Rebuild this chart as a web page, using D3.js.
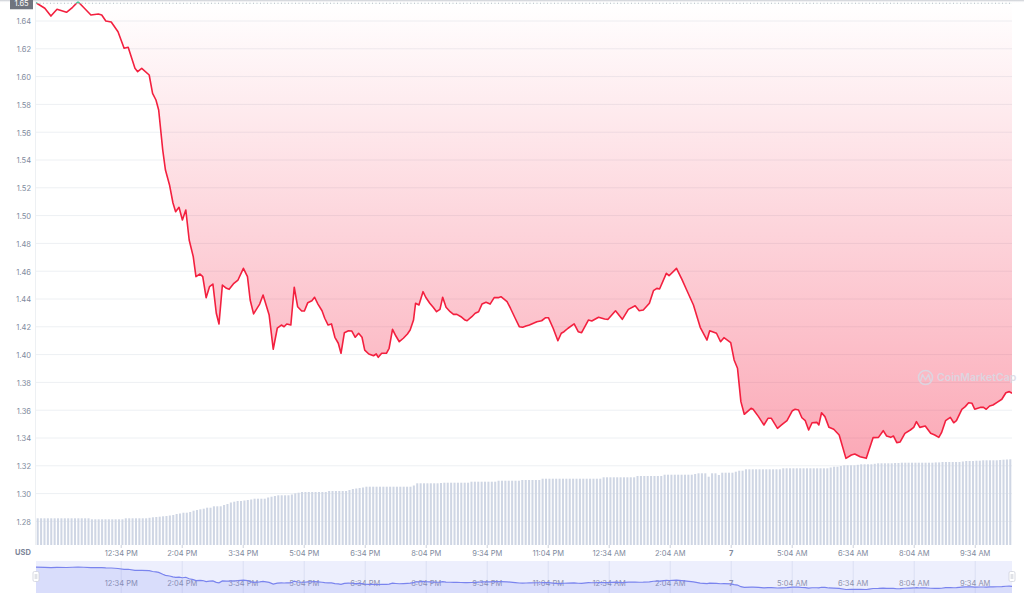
<!DOCTYPE html>
<html><head><meta charset="utf-8">
<script src="https://cdn.jsdelivr.net/npm/d3@7"></script>
<style>html,body{margin:0;padding:0;background:#fff;overflow:hidden}svg{display:block;font-family:Inter,"Noto Sans",sans-serif}</style>
</head><body><svg id="c" width="1024" height="603"></svg>
<script>
// minutes since 10:29 AM (day 6)
const priceMinutes = [0,13,22,31,45,54,62,70,81,92,97,103,111,121,130,136,146,150,156,167,172,177,181,187,191,197,202,206,211,216,221,226,232,236,242,246,251,256,261,266,270,275,281,285,292,298,306,312,316,321,330,335,344,350,356,362,366,370,376,381,386,392,396,401,407,411,416,422,426,431,436,441,446,450,455,461,466,471,476,481,485,491,498,502,505,510,517,521,526,531,536,542,548,552,557,560,565,571,575,581,586,591,596,600,605,611,616,621,627,633,636,643,648,653,658,664,670,676,682,686,695,700,707,713,718,723,728,739,746,752,756,763,770,775,779,785,794,800,805,815,820,830,839,844,855,865,874,884,890,896,905,911,916,920,930,934,945,953,960,970,980,990,994,1004,1010,1015,1025,1030,1035,1040,1045,1055,1058,1066,1074,1080,1085,1094,1100,1108,1116,1120,1125,1130,1135,1140,1145,1152,1155,1159,1164,1170,1177,1185,1195,1203,1208,1216,1225,1229,1235,1243,1250,1255,1261,1265,1270,1275,1282,1290,1295,1299,1304,1312,1320,1326,1332,1336,1342,1349,1354,1358,1366,1371,1376,1381,1385,1394,1398,1402,1407,1412,1418,1425,1431,1436,1440];
const prices = [1.6528,1.6488,1.6432,1.6481,1.6459,1.6495,1.6535,1.6495,1.6440,1.6447,1.6440,1.6396,1.6389,1.6319,1.6200,1.6207,1.6056,1.6032,1.6056,1.6008,1.5876,1.5828,1.5756,1.5468,1.5324,1.5217,1.5089,1.5024,1.5056,1.4965,1.5037,1.4821,1.4701,1.4557,1.4576,1.4557,1.4406,1.4485,1.4504,1.4294,1.4217,1.4497,1.4473,1.4466,1.4509,1.4533,1.4617,1.4557,1.4389,1.4289,1.4360,1.4425,1.4281,1.4035,1.4186,1.4209,1.4197,1.4217,1.4209,1.4481,1.4341,1.4310,1.4310,1.4370,1.4384,1.4409,1.4360,1.4312,1.4258,1.4209,1.4217,1.4121,1.4078,1.4006,1.4154,1.4168,1.4166,1.4121,1.4150,1.4121,1.4029,1.4001,1.3988,1.4001,1.3977,1.4006,1.4006,1.4042,1.4178,1.4130,1.4089,1.4114,1.4145,1.4173,1.4245,1.4366,1.4353,1.4449,1.4409,1.4366,1.4337,1.4305,1.4322,1.4409,1.4337,1.4305,1.4286,1.4286,1.4269,1.4245,1.4240,1.4269,1.4294,1.4305,1.4360,1.4373,1.4360,1.4406,1.4406,1.4413,1.4377,1.4330,1.4258,1.4197,1.4193,1.4202,1.4209,1.4233,1.4240,1.4262,1.4262,1.4186,1.4096,1.4150,1.4161,1.4186,1.4217,1.4161,1.4154,1.4245,1.4238,1.4265,1.4253,1.4250,1.4312,1.4250,1.4322,1.4348,1.4312,1.4317,1.4366,1.4456,1.4473,1.4468,1.4581,1.4564,1.4617,1.4538,1.4461,1.4353,1.4193,1.4101,1.4168,1.4150,1.4089,1.4118,1.4082,1.3958,1.3898,1.3658,1.3567,1.3610,1.3603,1.3550,1.3490,1.3538,1.3538,1.3466,1.3490,1.3521,1.3593,1.3603,1.3598,1.3542,1.3521,1.3454,1.3506,1.3509,1.3490,1.3578,1.3550,1.3473,1.3459,1.3418,1.3250,1.3274,1.3281,1.3262,1.3250,1.3310,1.3399,1.3401,1.3449,1.3411,1.3401,1.3411,1.3363,1.3368,1.3430,1.3454,1.3473,1.3514,1.3473,1.3483,1.3430,1.3418,1.3401,1.3435,1.3521,1.3545,1.3506,1.3521,1.3603,1.3622,1.3650,1.3646,1.3603,1.3617,1.3617,1.3603,1.3627,1.3634,1.3653,1.3675,1.3722,1.3730,1.3718];
const baselinePrice = 1.6524;
const baselineLabel = "1.65";
const yTicks = [1.28,1.30,1.32,1.34,1.36,1.38,1.40,1.42,1.44,1.46,1.48,1.50,1.52,1.54,1.56,1.58,1.60,1.62,1.64];
const xTickMinutes = [125,215,305,395,485,575,665,755,845,935,1025,1115,1205,1295,1385];
const xTickLabels = ["12:34 PM","2:04 PM","3:34 PM","5:04 PM","6:34 PM","8:04 PM","9:34 PM","11:04 PM","12:34 AM","2:04 AM","7","5:04 AM","6:34 AM","8:04 AM","9:34 AM"];
// 288 five-minute volume bars (relative units)
const volumes = [
26.7,26.7,26.7,26.7,26.7,26.7,26.7,26.7,26.7,26.7,26.7,26.7,
26.7,26.7,26.7,26.7,25.7,25.7,25.7,25.7,25.7,25.7,25.7,25.7,
25.7,25.7,26.7,26.7,26.7,26.7,26.7,26.7,26.7,27.2,27.7,28.0,
28.3,28.7,29.0,29.5,30.0,31.0,31.5,32.3,32.3,33.0,34.3,35.0,
35.7,36.3,37.3,37.3,38.7,38.7,38.7,40.0,41.0,42.5,43.3,44.0,
44.0,44.5,45.0,45.5,46.3,46.3,46.3,46.3,47.5,48.3,49.0,49.7,
49.7,49.7,49.7,50.5,51.7,52.3,53.0,53.0,53.0,53.0,53.0,53.0,
53.0,53.0,54.0,54.0,54.0,54.0,54.0,54.0,55.0,56.0,56.5,57.0,
57.5,58.3,58.3,58.3,58.3,58.3,58.3,58.3,58.3,58.3,58.3,58.3,
58.3,58.3,58.3,59.5,61.7,61.7,61.7,61.7,61.7,61.7,61.7,62.0,
62.3,62.3,62.3,62.3,62.3,62.3,62.3,62.3,63.3,63.3,63.3,63.3,
63.3,63.3,63.3,63.3,64.3,64.3,64.3,64.3,64.3,64.3,64.3,65.0,
65.0,65.0,65.0,65.0,65.0,66.3,66.3,66.3,66.3,66.3,66.3,66.3,
66.3,66.3,66.3,66.3,66.3,66.3,66.3,66.3,66.3,66.3,66.3,67.7,
67.7,67.7,67.7,67.7,67.7,67.7,67.7,67.7,67.7,69.0,69.0,69.0,
69.0,69.0,69.0,69.0,69.0,70.3,70.3,70.3,70.3,70.3,70.3,70.3,
70.3,70.3,71.0,71.7,71.7,71.7,68.3,71.7,71.7,70.0,72.3,72.3,
72.3,72.3,73.3,74.3,74.3,75.7,75.7,75.7,75.7,75.7,75.7,75.7,
75.7,75.7,75.7,75.7,76.7,76.7,76.7,76.7,76.7,76.7,76.7,76.7,
76.7,76.7,76.7,76.7,76.7,76.7,77.5,78.3,78.3,79.0,79.7,79.7,
79.7,79.7,80.2,80.7,80.7,80.7,80.7,81.2,81.7,81.7,81.7,81.7,
81.7,82.0,82.0,82.3,82.3,82.3,82.3,82.3,82.3,82.3,82.3,82.3,
82.3,82.6,82.6,83.0,83.0,83.0,83.0,83.0,83.0,83.5,84.0,84.0,
84.0,84.3,84.3,84.7,84.7,84.7,84.7,84.7,85.0,85.3,85.5,85.7];

const svg = d3.select("#c");
const L = 36, R = 1012;
const FS = "7.5px";
const x = d3.scaleLinear().domain([0,1440]).range([L,R]);
const y = d3.scaleLinear().domain([1.32,1.64]).range([465.3,20.5]);
const vol = d3.scaleLinear().domain([0,100]).range([545,445]);
const band = d3.scaleBand().domain(d3.range(volumes.length)).range([L,R]).paddingInner(0.4).paddingOuter(0.2);
const pts = priceMinutes.map((m,i)=>({m, p:prices[i]}));
const yBase = y(baselinePrice);

const defs = svg.append("defs");
const gRed = defs.append("linearGradient").attr("id","gRed").attr("gradientUnits","userSpaceOnUse")
  .attr("x1",0).attr("x2",0).attr("y1",yBase).attr("y2",y(d3.min(prices)));
gRed.append("stop").attr("offset","0%").attr("stop-color","#f5284a").attr("stop-opacity",0);
gRed.append("stop").attr("offset","100%").attr("stop-color","#f5284a").attr("stop-opacity",0.4);
const gTop = defs.append("linearGradient").attr("id","gTop").attr("x1",0).attr("x2",0).attr("y1",0).attr("y2",1);
gTop.append("stop").attr("offset","0%").attr("stop-color","#c4c8cf");
gTop.append("stop").attr("offset","100%").attr("stop-color","#ffffff").attr("stop-opacity",0);
defs.append("clipPath").attr("id","clipBelow").append("rect").attr("x",L).attr("y",yBase).attr("width",R-L).attr("height",560-yBase);
defs.append("clipPath").attr("id","clipAbove").append("rect").attr("x",L).attr("y",-10).attr("width",R-L).attr("height",yBase+10);

// gridlines
const grid = svg.append("g").attr("transform",`translate(${L},0)`)
  .call(d3.axisLeft(y).tickValues(yTicks).tickSize(-(R-L)).tickFormat(""));
grid.select(".domain").remove();
grid.selectAll("line").attr("stroke","#edf0f3").attr("stroke-width",1);
svg.append("line").attr("x1",L-0.5).attr("x2",L-0.5).attr("y1",0).attr("y2",545).attr("stroke","#edf0f3");

// y labels
const ya = svg.append("g").attr("transform",`translate(31,0)`)
  .call(d3.axisLeft(y).tickValues(yTicks).tickSize(0).tickPadding(0).tickFormat(d3.format(".2f")));
ya.select(".domain").remove();
ya.selectAll("text").attr("fill","#808a9d").attr("font-size",FS).attr("font-family","Inter, sans-serif").attr("dy","0.45em");

// volume bars
svg.append("g").selectAll("rect").data(volumes).join("rect")
  .attr("x",(d,i)=>band(i)).attr("width",band.bandwidth())
  .attr("y",d=>vol(d)).attr("height",d=>vol(0)-vol(d)).attr("fill","#cfd6e4");

// price area + line
const area = d3.area().x(d=>x(d.m)).y0(yBase).y1(d=>y(d.p));
const line = d3.line().x(d=>x(d.m)).y(d=>y(d.p));
svg.append("path").datum(pts).attr("d",area).attr("fill","url(#gRed)").attr("clip-path","url(#clipBelow)");
svg.append("path").datum(pts).attr("d",area).attr("fill","rgba(22,199,132,0.15)").attr("clip-path","url(#clipAbove)");
svg.append("path").datum(pts).attr("d",line).attr("fill","none").attr("stroke","#f3203f").attr("stroke-width",1.6).attr("stroke-linejoin","round").attr("clip-path","url(#clipBelow)");
svg.append("path").datum(pts).attr("d",line).attr("fill","none").attr("stroke","#16c784").attr("stroke-width",1.6).attr("stroke-linejoin","round").attr("clip-path","url(#clipAbove)");

// watermark
const wm = svg.append("g").attr("opacity",0.85);
wm.append("circle").attr("cx",925.5).attr("cy",377.5).attr("r",7).attr("fill","none").attr("stroke","#d8dae5").attr("stroke-width",1.6);
wm.append("path").attr("d","M920.5,381 L922.5,374.5 L925.5,380 L928.5,374.5 L930.5,381").attr("fill","none").attr("stroke","#d8dae5").attr("stroke-width",1.5).attr("stroke-linejoin","round");
wm.append("text").attr("x",937).attr("y",381).text("CoinMarketCap").attr("fill","#d8dae5").attr("font-size","10.5px").attr("font-weight",600).attr("font-family","Inter, sans-serif");

// top band and baseline
svg.append("rect").attr("x",0).attr("y",0).attr("width",1024).attr("height",3).attr("fill","url(#gTop)");
svg.append("line").attr("x1",L).attr("x2",R).attr("y1",yBase).attr("y2",yBase).attr("stroke","#a4abb8").attr("stroke-width",0.8).attr("stroke-dasharray","1,2.5");
svg.append("rect").attr("x",10).attr("y",yBase-10).attr("width",23).attr("height",16).attr("fill","#6f747e");
svg.append("text").attr("x",21.5).attr("y",yBase+1).attr("text-anchor","middle").attr("dominant-baseline","middle").attr("fill","#fff").attr("font-size",FS).text(baselineLabel);

// x axis
const xa = svg.append("g").attr("transform","translate(0,545)")
  .call(d3.axisBottom(x).tickValues(xTickMinutes).tickSize(3).tickPadding(3).tickFormat((d,i)=>xTickLabels[i]));
xa.select(".domain").remove();
xa.selectAll("line").attr("stroke","#ccd1db");
xa.selectAll("text").attr("fill","#808a9d").attr("font-size",FS).attr("font-family","Inter, sans-serif")
  .attr("font-weight",(d,i)=>xTickLabels[i]==="7"?700:400);
svg.append("text").attr("x",23).attr("y",555).attr("text-anchor","middle").text("USD").attr("fill","#7c8598").attr("font-size",FS).attr("font-weight",700).attr("font-family","Inter, sans-serif");

// navigator
const NT = 561, NB = 593;
svg.append("rect").attr("x",L).attr("y",NT).attr("width",R-L).attr("height",NB-NT).attr("fill","#edeffd");
const ny = d3.scaleLinear().domain(d3.extent(prices)).range([589.5,567]);
const na = svg.append("g").attr("transform",`translate(0,${NB})`)
  .call(d3.axisBottom(x).tickValues(xTickMinutes).tickSize(-(NB-NT)).tickPadding(0).tickFormat((d,i)=>xTickLabels[i]));
na.select(".domain").remove();
na.selectAll("line").attr("stroke","#dcdff3");
na.selectAll("text").attr("y",-7.5).attr("dy",0).attr("fill","#8d93ad").attr("font-size",FS).attr("font-family","Inter, sans-serif")
  .attr("font-weight",(d,i)=>xTickLabels[i]==="7"?700:400);
svg.append("path").datum(pts).attr("d",d3.area().x(d=>x(d.m)).y0(NB).y1(d=>ny(d.p))).attr("fill","rgba(96,110,240,0.14)");
svg.append("path").datum(pts).attr("d",d3.line().x(d=>x(d.m)).y(d=>ny(d.p))).attr("fill","none").attr("stroke","#7a84ee").attr("stroke-width",1.2);
[L, R].forEach(hx=>{
  const h = svg.append("g");
  h.append("rect").attr("x",hx-3).attr("y",571.5).attr("width",6).attr("height",10).attr("rx",1.5).attr("fill","#fff").attr("stroke","#cfd2dc").attr("stroke-width",0.8);
  h.append("line").attr("x1",hx-0.8).attr("x2",hx-0.8).attr("y1",574).attr("y2",579).attr("stroke","#b5b9c6").attr("stroke-width",0.6);
  h.append("line").attr("x1",hx+0.8).attr("x2",hx+0.8).attr("y1",574).attr("y2",579).attr("stroke","#b5b9c6").attr("stroke-width",0.6);
});
</script></body></html>
